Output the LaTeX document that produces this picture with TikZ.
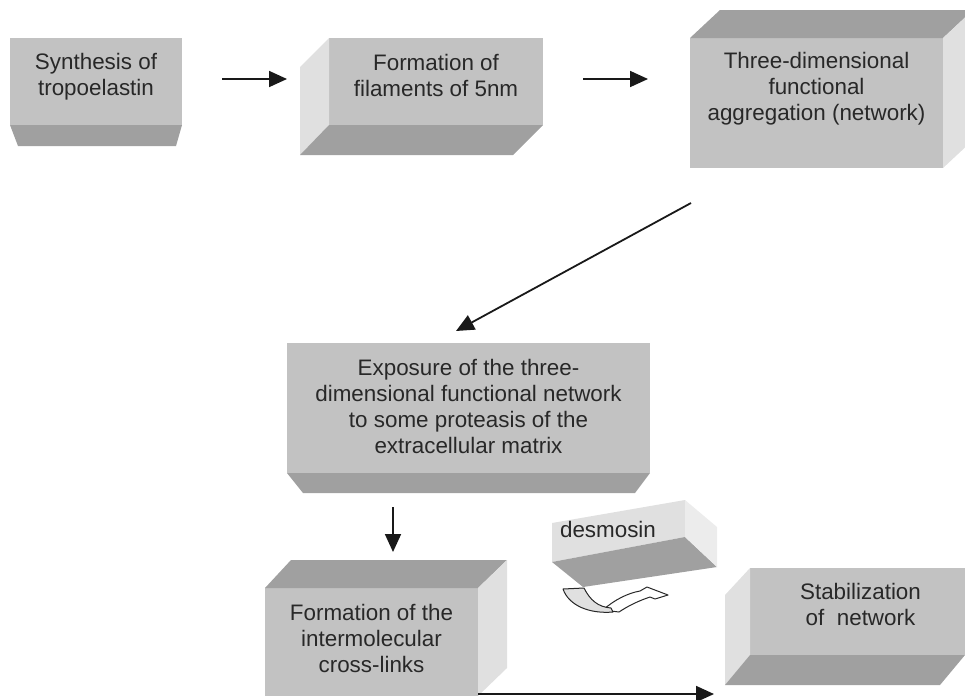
\documentclass[tikz,border=0pt]{standalone}
\usepackage{fontspec}
\setmainfont{Liberation Sans}
\usetikzlibrary{calc,arrows.meta}
\definecolor{frontc}{RGB}{194,194,194}
\definecolor{darkc}{RGB}{160,160,160}
\definecolor{lightc}{RGB}{224,224,224}
\definecolor{palec}{RGB}{236,236,236}
\definecolor{txtc}{RGB}{40,40,40}
\definecolor{arrc}{RGB}{25,25,25}
\begin{document}
\begin{tikzpicture}[x=1pt,y=-1pt,
  face/.style={fill=frontc, draw=none, inner sep=0pt, outer sep=0pt},
  txt/.style={font=\fontsize{22.4}{26}\selectfont, text=txtc, align=center, inner sep=0pt},
  arr/.style={draw=arrc, line width=1.8pt, -{Triangle[length=18pt,width=16pt]}},
  curl/.style={draw=txtc, line width=1pt, line join=round}]
\useasboundingbox (0,0) rectangle (965,699);

% Box 1
\node[face, minimum width=172pt, minimum height=87pt] (b1) at (96,81.5) {};
\fill[darkc] (b1.south west) -- (b1.south east) -- ++(-6,21) -- ($(b1.south west)+(8,21)$) -- cycle;
\node[txt] (t1) at ([yshift=5pt]b1.center) {Synthesis of\\tropoelastin};

% Box 2
\node[face, minimum width=214pt, minimum height=87pt] (b2) at (436,81.5) {};
\fill[lightc] (b2.north west) -- ++(-29,29) -- ($(b2.south west)+(-29,30)$) -- (b2.south west) -- cycle;
\fill[darkc] (b2.south west) -- (b2.south east) -- ++(-30,30) -- ($(b2.south west)+(-29,30)$) -- cycle;
\node[txt] (t2) at ([yshift=6pt]b2.center) {Formation of\\filaments of 5nm};

% Box 3
\node[face, minimum width=253pt, minimum height=130pt] (b3) at (816.5,103) {};
\fill[darkc] (b3.north west) -- ++(30,-28) -- ($(b3.north east)+(30,-28)$) -- (b3.north east) -- cycle;
\fill[lightc] (b3.north east) -- ++(30,-28) -- ($(b3.south east)+(30,-28)$) -- (b3.south east) -- cycle;
\node[txt] (t3) at ([yshift=14pt]b3.center) {Three-dimensional\\functional\\aggregation (network)};

% Box 4
\node[face, minimum width=363pt, minimum height=130pt] (b4) at (468.5,408) {};
\fill[darkc] (b4.south west) -- (b4.south east) -- ++(-15,20) -- ($(b4.south west)+(16,20)$) -- cycle;
\node[txt] (t4) at ([yshift=2pt]b4.center) {Exposure of the three-\\dimensional functional network\\to some proteasis of the\\extracellular matrix};

% Box 5
\node[face, minimum width=213pt, minimum height=108pt] (b5) at (371.5,642) {};
\fill[darkc] (b5.north west) -- ++(26,-28) -- ($(b5.north east)+(29,-28)$) -- (b5.north east) -- cycle;
\fill[lightc] (b5.north east) -- ++(29,-28) -- ($(b5.south east)+(29,-28)$) -- (b5.south east) -- cycle;
\node[txt] (t5) at ([yshift=4pt]b5.center) {Formation of the\\intermolecular\\cross-links};

% Box 6
\node[face, minimum width=215pt, minimum height=87pt] (b6) at (857.5,611.5) {};
\fill[lightc] (b6.north west) -- ++(-25,27) -- ($(b6.south west)+(-25,30)$) -- (b6.south west) -- cycle;
\fill[darkc] (b6.south west) -- (b6.south east) -- ++(-25,30) -- ($(b6.south west)+(-25,30)$) -- cycle;
\node[txt] (t6) at ([xshift=3pt,yshift=7pt]b6.center) {Stabilization\\of\ \ network};

% desmosin box (tilted)
\fill[lightc] (552,523) -- (685,500) -- (685,537) -- (552,562) -- cycle;
\fill[darkc] (552,562) -- (685,537) -- (717,567) -- (583,587) -- cycle;
\fill[palec] (685,500) -- (717,527) -- (717,567) -- (685,537) -- cycle;
\node[txt] (td) at (608,529) {desmosin};

% curled arrow under desmosin
\filldraw[curl, fill=white] (603,610) .. controls (614,600) and (628,593) .. (640,591)
  -- (647,587) -- (668,595) -- (655,599) -- (650,597)
  .. controls (638,601) and (628,606) .. (619,612) -- cycle;
\filldraw[curl, fill=lightc] (563,589) -- (584,588)
  .. controls (590,600) and (598,607) .. (611,608)
  -- (613,612) .. controls (590,614) and (569,606) .. (563,589) -- cycle;

% connectors
\draw[arr, shorten <=40pt, shorten >=42pt] ([yshift=2.5pt]b1.east) -- ([yshift=2.5pt]b2.west);
\draw[arr, shorten <=40pt, shorten >=42pt] ([yshift=2.5pt]b2.east) -- ([yshift=2.5pt]b2.east -| b3.west);
\coordinate (d1) at (691,203);
\coordinate (d2) at (456,331);
\draw[arr] (d1) -- (d2);
\coordinate (e1) at (393,507);
\coordinate (e2) at (393,552);
\draw[arr] (e1) -- (e2);
\coordinate (f1) at (478,694);
\coordinate (f2) at (714,694);
\draw[arr] (f1) -- (f2);
\end{tikzpicture}
\end{document}
